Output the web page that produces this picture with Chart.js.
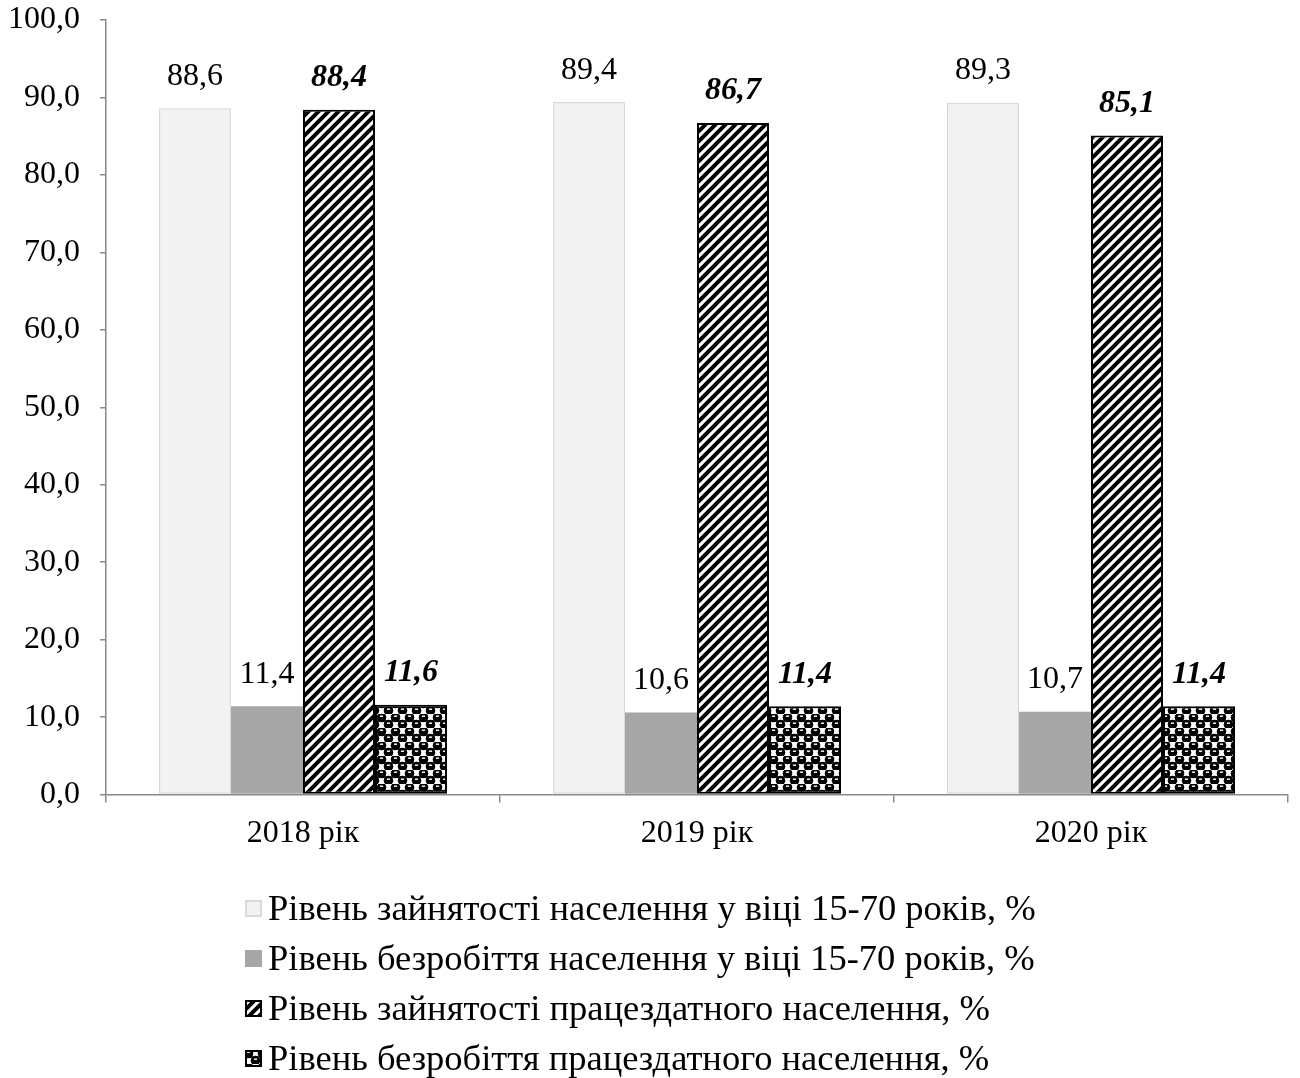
<!DOCTYPE html>
<html>
<head>
<meta charset="utf-8">
<script src="https://cdn.jsdelivr.net/npm/chart.js@4"></script>
<style>
  body { margin: 0; background: #fff; }
  #wrap { position: relative; width: 1300px; height: 1078px; }
  #chartBox { position: absolute; left: 0; top: 0; width: 1300px; height: 870px; }
  #legend { position: absolute; left: 245px; top: 883px; font-family: "Liberation Serif", serif; font-size: 36.5px; color: #000; }
  #legend .row { height: 50px; line-height: 50px; white-space: nowrap; display: flex; align-items: center; }
  #legend canvas { width: 17px; height: 17px; margin-right: 6px; }
</style>
</head>
<body>
<div id="wrap">
  <div id="chartBox"><canvas id="employmentChart"></canvas></div>
  <div id="legend"></div>
</div>
<script>
/* ===============================
   DATA
================================ */
const categories = ["2018 рік", "2019 рік", "2020 рік"];
const seriesLabels = [
  "Рівень зайнятості населення у віці 15-70 років, %",
  "Рівень безробіття населення у віці 15-70 років, %",
  "Рівень зайнятості працездатного населення, %",
  "Рівень безробіття працездатного населення, %",
];
const employment1570 = [88.6, 89.4, 89.3];
const unemployment1570 = [11.4, 10.6, 10.7];
const employmentAble = [88.4, 86.7, 85.1];
const unemploymentAble = [11.6, 11.4, 11.4];

const FONT = "'Liberation Serif', 'Times New Roman', serif";

/* ===============================
   PATTERNS
================================ */
function hatchPattern(ctx) {
  const c = document.createElement("canvas");
  c.width = 10; c.height = 10;
  const g = c.getContext("2d");
  g.fillStyle = "#fff";
  g.fillRect(0, 0, 10, 10);
  g.strokeStyle = "#000";
  g.lineWidth = 4;
  g.beginPath();
  // "/" stripes, repeated so the tile joins up
  g.moveTo(-5, 5); g.lineTo(5, -5);
  g.moveTo(0, 10); g.lineTo(10, 0);
  g.moveTo(5, 15); g.lineTo(15, 5);
  g.stroke();
  return ctx.createPattern(c, "repeat");
}

function checkerPattern(ctx) {
  const c = document.createElement("canvas");
  c.width = 14; c.height = 14;
  const g = c.getContext("2d");
  g.fillStyle = "#fff";
  g.fillRect(0, 0, 14, 14);
  g.fillStyle = "#000";
  [[3.5, 3.5], [10.5, 10.5], [-3.5, 10.5], [17.5, 3.5]].forEach(([x, y]) => {
    g.beginPath();
    g.arc(x, y, 4.8, 0, Math.PI * 2);
    g.fill();
  });
  g.fillRect(0, 6.3, 14, 1.4);
  g.fillStyle = "#fff";
  [[3.5, 2.2], [10.5, 9.2]].forEach(([x, y]) => {
    g.fillRect(x - 1.6, y - 0.7, 3.2, 1.4);
  });
  return ctx.createPattern(c, "repeat");
}

const canvas = document.getElementById("employmentChart");
const ctx = canvas.getContext("2d");
const hatch = hatchPattern(ctx);
const checker = checkerPattern(ctx);

const fills = ["#f2f2f2", "#a6a6a6", hatch, checker];
const borders = ["#d9d9d9", "#a6a6a6", "#000", "#000"];
const borderWidths = [1.5, 0, 2, 2];

/* ===============================
   VALUE LABELS PLUGIN
================================ */
const valueLabels = {
  id: "valueLabels",
  afterDatasetsDraw(chart) {
    const c = chart.ctx;
    c.save();
    c.fillStyle = "#000";
    c.textAlign = "center";
    c.textBaseline = "middle";
    chart.data.datasets.forEach((ds, i) => {
      const meta = chart.getDatasetMeta(i);
      const emph = i >= 2;
      c.font = (emph ? "italic bold " : "") + "32px " + FONT;
      meta.data.forEach((bar, j) => {
        const txt = ds.data[j].toFixed(1).replace(".", ",");
        c.fillText(txt, bar.x, bar.y - 32);
      });
    });
    c.restore();
  },
};

const values = [employment1570, unemployment1570, employmentAble, unemploymentAble];

new Chart(canvas, {
  type: "bar",
  data: {
    labels: categories,
    datasets: values.map((v, i) => ({
      label: seriesLabels[i],
      data: v,
      backgroundColor: fills[i],
      borderColor: borders[i],
      borderWidth: borderWidths[i],
      borderSkipped: false,
      categoryPercentage: 0.731,
      barPercentage: 1,
    })),
  },
  options: {
    responsive: true,
    maintainAspectRatio: false,
    animation: false,
    layout: {
      padding: { left: 10, right: 12, top: 0, bottom: 5 },
    },
    plugins: {
      legend: { display: false },
      tooltip: { enabled: false },
    },
    scales: {
      x: {
        grid: {
          offset: true,
          drawOnChartArea: false,
          drawTicks: true,
          tickLength: 8,
          color: "#898989",
          lineWidth: 1.5,
        },
        border: { color: "#898989", width: 1.5 },
        ticks: {
          color: "#000",
          padding: 12,
          font: { family: FONT, size: 32 },
        },
      },
      y: {
        min: 0,
        max: 100,
        afterFit(scale) {
          scale.width = 96;
          scale.paddingTop = 20;
          scale.paddingBottom = 20;
        },
        grid: {
          drawOnChartArea: false,
          drawTicks: true,
          tickLength: 6,
          color: "#898989",
          lineWidth: 1.5,
        },
        border: { color: "#898989", width: 1.5 },
        ticks: {
          stepSize: 10,
          color: "#000",
          padding: 20,
          font: { family: FONT, size: 32 },
          callback: (v) => v.toFixed(1).replace(".", ","),
        },
      },
    },
  },
  plugins: [valueLabels],
});

/* ===============================
   LEGEND (one item per line)
================================ */
const legend = document.getElementById("legend");
seriesLabels.forEach((label, i) => {
  const row = document.createElement("div");
  row.className = "row";
  const sw = document.createElement("canvas");
  sw.width = 17; sw.height = 17;
  const g = sw.getContext("2d");
  g.fillStyle = i === 2 ? hatchPattern(g) : i === 3 ? checkerPattern(g) : fills[i];
  g.fillRect(0, 0, 17, 17);
  if (borderWidths[i] > 0) {
    g.strokeStyle = borders[i];
    g.lineWidth = 2;
    g.strokeRect(1, 1, 15, 15);
  }
  row.appendChild(sw);
  const span = document.createElement("span");
  span.textContent = label;
  row.appendChild(span);
  legend.appendChild(row);
});
</script>
</body>
</html>
